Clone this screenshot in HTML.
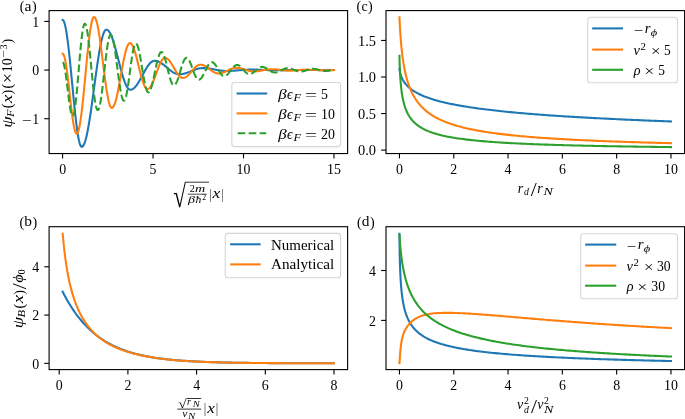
<!DOCTYPE html>
<html><head><meta charset="utf-8"><title>figure</title>
<style>html,body{margin:0;padding:0;background:#fff}svg{display:block}</style></head>
<body>
<svg width="685" height="419" viewBox="0 0 685 419" font-family="'Liberation Serif', serif" fill="#000">
<rect width="685" height="419" fill="#fff"/>
<defs>
<clipPath id="clip_a"><rect x="49.10" y="10.60" width="298.50" height="142.95"/></clipPath>
<clipPath id="clip_b"><rect x="49.10" y="226.70" width="298.50" height="142.90"/></clipPath>
<clipPath id="clip_c"><rect x="386.00" y="10.60" width="298.60" height="142.95"/></clipPath>
<clipPath id="clip_d"><rect x="386.00" y="226.70" width="298.60" height="142.90"/></clipPath>
</defs>
<path d="M62.60,19.94 L63.05,20.12 L63.51,20.64 L63.96,21.52 L64.41,22.74 L64.87,24.29 L65.32,26.17 L65.77,28.37 L66.22,30.88 L66.68,33.67 L67.13,36.75 L67.58,40.08 L68.04,43.65 L68.49,47.44 L68.94,51.43 L69.40,55.60 L69.85,59.92 L70.30,64.37 L70.75,68.93 L71.21,73.57 L71.66,78.26 L72.11,82.98 L72.57,87.70 L73.02,92.40 L73.47,97.05 L73.93,101.62 L74.38,106.09 L74.83,110.44 L75.28,114.64 L75.74,118.66 L76.19,122.48 L76.64,126.09 L77.10,129.47 L77.55,132.58 L78.00,135.43 L78.46,137.98 L78.91,140.24 L79.36,142.17 L79.81,143.78 L80.27,145.06 L80.72,145.99 L81.17,146.58 L81.63,146.81 L82.08,146.75 L82.53,146.49 L82.99,146.04 L83.44,145.40 L83.89,144.56 L84.34,143.54 L84.80,142.33 L85.25,140.95 L85.70,139.39 L86.16,137.65 L86.61,135.76 L87.06,133.70 L87.52,131.50 L87.97,129.15 L88.42,126.67 L88.87,124.05 L89.33,121.32 L89.78,118.48 L90.23,115.54 L90.69,112.51 L91.14,109.39 L91.59,106.21 L92.05,102.96 L92.50,99.67 L92.95,96.34 L93.40,92.98 L93.86,89.61 L94.31,86.23 L94.76,82.86 L95.22,79.51 L95.67,76.18 L96.12,72.90 L96.58,69.67 L97.03,66.50 L97.48,63.40 L97.93,60.38 L98.39,57.46 L98.84,54.64 L99.29,51.93 L99.75,49.34 L100.20,46.88 L100.65,44.56 L101.11,42.38 L101.56,40.36 L102.01,38.49 L102.46,36.79 L102.92,35.26 L103.37,33.91 L103.82,32.74 L104.28,31.75 L104.73,30.96 L105.18,30.35 L105.64,29.93 L106.09,29.71 L106.54,29.68 L106.99,29.77 L107.45,29.97 L107.90,30.27 L108.35,30.67 L108.81,31.18 L109.26,31.79 L109.71,32.49 L110.17,33.29 L110.62,34.19 L111.07,35.17 L111.52,36.24 L111.98,37.40 L112.43,38.63 L112.88,39.94 L113.34,41.31 L113.79,42.75 L114.24,44.26 L114.70,45.81 L115.15,47.41 L115.60,49.06 L116.05,50.75 L116.51,52.46 L116.96,54.20 L117.41,55.96 L117.87,57.74 L118.32,59.52 L118.77,61.30 L119.23,63.08 L119.68,64.84 L120.13,66.59 L120.58,68.31 L121.04,70.00 L121.49,71.65 L121.94,73.27 L122.40,74.83 L122.85,76.34 L123.30,77.79 L123.76,79.18 L124.21,80.50 L124.66,81.75 L125.11,82.92 L125.57,84.01 L126.02,85.01 L126.47,85.92 L126.93,86.74 L127.38,87.46 L127.83,88.09 L128.29,88.62 L128.74,89.04 L129.19,89.36 L129.64,89.58 L130.10,89.69 L130.55,89.70 L131.00,89.65 L131.46,89.56 L131.91,89.41 L132.36,89.21 L132.82,88.97 L133.27,88.68 L133.72,88.34 L134.17,87.96 L134.63,87.54 L135.08,87.07 L135.53,86.56 L135.99,86.01 L136.44,85.43 L136.89,84.81 L137.35,84.16 L137.80,83.47 L138.25,82.76 L138.70,82.03 L139.16,81.26 L139.61,80.48 L140.06,79.68 L140.52,78.87 L140.97,78.04 L141.42,77.21 L141.88,76.36 L142.33,75.51 L142.78,74.67 L143.23,73.82 L143.69,72.98 L144.14,72.15 L144.59,71.32 L145.05,70.51 L145.50,69.72 L145.95,68.95 L146.41,68.20 L146.86,67.47 L147.31,66.77 L147.76,66.10 L148.22,65.46 L148.67,64.85 L149.12,64.28 L149.58,63.75 L150.03,63.25 L150.48,62.80 L150.94,62.39 L151.39,62.03 L151.84,61.71 L152.29,61.44 L152.75,61.22 L153.20,61.04 L153.65,60.91 L154.11,60.83 L154.56,60.81 L155.01,60.82 L155.47,60.85 L155.92,60.90 L156.37,60.98 L156.83,61.08 L157.28,61.20 L157.73,61.34 L158.18,61.50 L158.64,61.68 L159.09,61.88 L159.54,62.10 L160.00,62.34 L160.45,62.59 L160.90,62.87 L161.36,63.15 L161.81,63.46 L162.26,63.77 L162.71,64.10 L163.17,64.44 L163.62,64.79 L164.07,65.15 L164.53,65.51 L164.98,65.89 L165.43,66.26 L165.89,66.65 L166.34,67.03 L166.79,67.42 L167.24,67.81 L167.70,68.20 L168.15,68.58 L168.60,68.96 L169.06,69.34 L169.51,69.71 L169.96,70.08 L170.42,70.43 L170.87,70.78 L171.32,71.11 L171.77,71.44 L172.23,71.75 L172.68,72.04 L173.13,72.32 L173.59,72.59 L174.04,72.84 L174.49,73.07 L174.95,73.28 L175.40,73.48 L175.85,73.65 L176.30,73.81 L176.76,73.94 L177.21,74.05 L177.66,74.14 L178.12,74.21 L178.57,74.25 L179.02,74.28 L179.48,74.28 L179.93,74.27 L180.38,74.25 L180.83,74.22 L181.29,74.17 L181.74,74.12 L182.19,74.05 L182.65,73.98 L183.10,73.89 L183.55,73.79 L184.01,73.69 L184.46,73.57 L184.91,73.45 L185.36,73.32 L185.82,73.18 L186.27,73.03 L186.72,72.88 L187.18,72.72 L187.63,72.55 L188.08,72.38 L188.54,72.21 L188.99,72.03 L189.44,71.85 L189.89,71.66 L190.35,71.48 L190.80,71.29 L191.25,71.10 L191.71,70.92 L192.16,70.73 L192.61,70.55 L193.07,70.37 L193.52,70.19 L193.97,70.01 L194.42,69.84 L194.88,69.68 L195.33,69.52 L195.78,69.36 L196.24,69.22 L196.69,69.08 L197.14,68.94 L197.60,68.82 L198.05,68.71 L198.50,68.60 L198.95,68.50 L199.41,68.42 L199.86,68.34 L200.31,68.27 L200.77,68.22 L201.22,68.17 L201.67,68.14 L202.13,68.12 L202.58,68.11 L203.03,68.10 L203.48,68.11 L203.94,68.12 L204.39,68.14 L204.84,68.16 L205.30,68.18 L205.75,68.21 L206.20,68.25 L206.66,68.28 L207.11,68.33 L207.56,68.38 L208.01,68.43 L208.47,68.49 L208.92,68.55 L209.37,68.61 L209.83,68.68 L210.28,68.74 L210.73,68.82 L211.19,68.89 L211.64,68.97 L212.09,69.05 L212.54,69.13 L213.00,69.21 L213.45,69.30 L213.90,69.38 L214.36,69.47 L214.81,69.55 L215.26,69.64 L215.72,69.72 L216.17,69.81 L216.62,69.89 L217.07,69.97 L217.53,70.05 L217.98,70.13 L218.43,70.21 L218.89,70.28 L219.34,70.36 L219.79,70.42 L220.25,70.49 L220.70,70.55 L221.15,70.61 L221.60,70.67 L222.06,70.72 L222.51,70.76 L222.96,70.81 L223.42,70.84 L223.87,70.88 L224.32,70.91 L224.78,70.93 L225.23,70.95 L225.68,70.96 L226.13,70.97 L226.59,70.97 L227.04,70.97 L227.49,70.97 L227.95,70.96 L228.40,70.96 L228.85,70.95 L229.31,70.93 L229.76,70.92 L230.21,70.90 L230.66,70.88 L231.12,70.86 L231.57,70.84 L232.02,70.81 L232.48,70.79 L232.93,70.76 L233.38,70.73 L233.84,70.70 L234.29,70.66 L234.74,70.63 L235.19,70.59 L235.65,70.56 L236.10,70.52 L236.55,70.48 L237.01,70.44 L237.46,70.40 L237.91,70.36 L238.37,70.32 L238.82,70.28 L239.27,70.24 L239.72,70.20 L240.18,70.16 L240.63,70.12 L241.08,70.09 L241.54,70.05 L241.99,70.01 L242.44,69.97 L242.90,69.94 L243.35,69.91 L243.80,69.87 L244.26,69.84 L244.71,69.81 L245.16,69.78 L245.61,69.76 L246.07,69.73 L246.52,69.71 L246.97,69.69 L247.43,69.67 L247.88,69.66 L248.33,69.65 L248.79,69.63 L249.24,69.63 L249.69,69.62 L250.14,69.61 L250.60,69.61 L251.05,69.61 L251.50,69.61 L251.96,69.62 L252.41,69.62 L252.86,69.62 L253.32,69.63 L253.77,69.64 L254.22,69.64 L254.67,69.65 L255.13,69.66 L255.58,69.67 L256.03,69.68 L256.49,69.69 L256.94,69.71 L257.39,69.72 L257.85,69.74 L258.30,69.75 L258.75,69.77 L259.20,69.78 L259.66,69.80 L260.11,69.82 L260.56,69.83 L261.02,69.85 L261.47,69.87 L261.92,69.89 L262.38,69.91 L262.83,69.92 L263.28,69.94 L263.73,69.96 L264.19,69.98 L264.64,70.00 L265.09,70.01 L265.55,70.03 L266.00,70.05 L266.45,70.07 L266.91,70.08 L267.36,70.10 L267.81,70.11 L268.26,70.13 L268.72,70.14 L269.17,70.16 L269.62,70.17 L270.08,70.18 L270.53,70.19 L270.98,70.20 L271.44,70.21 L271.89,70.22 L272.34,70.22 L272.79,70.23 L273.25,70.24 L273.70,70.24 L274.15,70.24 L274.61,70.24 L275.06,70.24 L275.51,70.24 L275.97,70.24 L276.42,70.24 L276.87,70.24 L277.32,70.24 L277.78,70.24 L278.23,70.23 L278.68,70.23 L279.14,70.23 L279.59,70.22 L280.04,70.22 L280.50,70.21 L280.95,70.21 L281.40,70.20 L281.85,70.19 L282.31,70.19 L282.76,70.18 L283.21,70.17 L283.67,70.17 L284.12,70.16 L284.57,70.15 L285.03,70.14 L285.48,70.13 L285.93,70.13 L286.38,70.12 L286.84,70.11 L287.29,70.10 L287.74,70.09 L288.20,70.08 L288.65,70.07 L289.10,70.07 L289.56,70.06 L290.01,70.05 L290.46,70.04 L290.91,70.03 L291.37,70.03 L291.82,70.02 L292.27,70.01 L292.73,70.01 L293.18,70.00 L293.63,69.99 L294.09,69.99 L294.54,69.98 L294.99,69.98 L295.44,69.97 L295.90,69.97 L296.35,69.97 L296.80,69.96 L297.26,69.96 L297.71,69.96 L298.16,69.96 L298.62,69.95 L299.07,69.95 L299.52,69.95 L299.97,69.95 L300.43,69.95 L300.88,69.95 L301.33,69.95 L301.79,69.96 L302.24,69.96 L302.69,69.96 L303.15,69.96 L303.60,69.96 L304.05,69.97 L304.50,69.97 L304.96,69.97 L305.41,69.97 L305.86,69.98 L306.32,69.98 L306.77,69.98 L307.22,69.99 L307.68,69.99 L308.13,70.00 L308.58,70.00 L309.03,70.00 L309.49,70.01 L309.94,70.01 L310.39,70.02 L310.85,70.02 L311.30,70.03 L311.75,70.03 L312.21,70.03 L312.66,70.04 L313.11,70.04 L313.56,70.05 L314.02,70.05 L314.47,70.06 L314.92,70.06 L315.38,70.06 L315.83,70.07 L316.28,70.07 L316.74,70.07 L317.19,70.08 L317.64,70.08 L318.09,70.08 L318.55,70.09 L319.00,70.09 L319.45,70.09 L319.91,70.09 L320.36,70.09 L320.81,70.10 L321.27,70.10 L321.72,70.10 L322.17,70.10 L322.62,70.10 L323.08,70.10 L323.53,70.10 L323.98,70.10 L324.44,70.10 L324.89,70.10 L325.34,70.10 L325.80,70.10 L326.25,70.10 L326.70,70.09 L327.15,70.09 L327.61,70.09 L328.06,70.09 L328.51,70.09 L328.97,70.09 L329.42,70.09 L329.87,70.08 L330.33,70.08 L330.78,70.08 L331.23,70.08 L331.68,70.08 L332.14,70.08 L332.59,70.07 L333.04,70.07 L333.50,70.07 L333.95,70.07" fill="none" stroke="#1f77b4" stroke-width="2.08" stroke-linecap="square" stroke-linejoin="round" clip-path="url(#clip_a)"/>
<path d="M62.60,53.70 L63.05,53.91 L63.51,54.52 L63.96,55.53 L64.41,56.93 L64.87,58.70 L65.32,60.83 L65.77,63.30 L66.22,66.08 L66.68,69.13 L67.13,72.44 L67.58,75.97 L68.04,79.68 L68.49,83.53 L68.94,87.48 L69.40,91.50 L69.85,95.55 L70.30,99.57 L70.75,103.53 L71.21,107.40 L71.66,111.12 L72.11,114.67 L72.57,118.00 L73.02,121.09 L73.47,123.90 L73.93,126.40 L74.38,128.57 L74.83,130.38 L75.28,131.83 L75.74,132.88 L76.19,133.53 L76.64,133.78 L77.10,133.63 L77.55,133.08 L78.00,132.15 L78.46,130.84 L78.91,129.15 L79.36,127.11 L79.81,124.72 L80.27,121.99 L80.72,118.96 L81.17,115.63 L81.63,112.03 L82.08,108.19 L82.53,104.12 L82.99,99.86 L83.44,95.44 L83.89,90.89 L84.34,86.23 L84.80,81.50 L85.25,76.72 L85.70,71.94 L86.16,67.18 L86.61,62.48 L87.06,57.86 L87.52,53.36 L87.97,49.01 L88.42,44.84 L88.87,40.87 L89.33,37.13 L89.78,33.65 L90.23,30.45 L90.69,27.55 L91.14,24.97 L91.59,22.74 L92.05,20.85 L92.50,19.33 L92.95,18.19 L93.40,17.43 L93.86,17.06 L94.31,17.07 L94.76,17.37 L95.22,17.97 L95.67,18.86 L96.12,20.02 L96.58,21.46 L97.03,23.16 L97.48,25.11 L97.93,27.30 L98.39,29.72 L98.84,32.35 L99.29,35.18 L99.75,38.17 L100.20,41.33 L100.65,44.62 L101.11,48.02 L101.56,51.52 L102.01,55.09 L102.46,58.71 L102.92,62.35 L103.37,65.99 L103.82,69.60 L104.28,73.18 L104.73,76.68 L105.18,80.09 L105.64,83.39 L106.09,86.55 L106.54,89.56 L106.99,92.40 L107.45,95.04 L107.90,97.47 L108.35,99.68 L108.81,101.65 L109.26,103.36 L109.71,104.82 L110.17,106.00 L110.62,106.90 L111.07,107.52 L111.52,107.84 L111.98,107.89 L112.43,107.71 L112.88,107.33 L113.34,106.76 L113.79,105.99 L114.24,105.04 L114.70,103.90 L115.15,102.59 L115.60,101.11 L116.05,99.47 L116.51,97.68 L116.96,95.76 L117.41,93.71 L117.87,91.54 L118.32,89.28 L118.77,86.94 L119.23,84.52 L119.68,82.04 L120.13,79.53 L120.58,76.99 L121.04,74.44 L121.49,71.90 L121.94,69.38 L122.40,66.90 L122.85,64.47 L123.30,62.11 L123.76,59.83 L124.21,57.65 L124.66,55.58 L125.11,53.64 L125.57,51.82 L126.02,50.16 L126.47,48.65 L126.93,47.31 L127.38,46.14 L127.83,45.15 L128.29,44.35 L128.74,43.75 L129.19,43.34 L129.64,43.13 L130.10,43.11 L130.55,43.26 L131.00,43.55 L131.46,43.99 L131.91,44.58 L132.36,45.30 L132.82,46.17 L133.27,47.16 L133.72,48.28 L134.17,49.52 L134.63,50.86 L135.08,52.30 L135.53,53.84 L135.99,55.45 L136.44,57.14 L136.89,58.88 L137.35,60.67 L137.80,62.50 L138.25,64.35 L138.70,66.21 L139.16,68.07 L139.61,69.92 L140.06,71.74 L140.52,73.52 L140.97,75.26 L141.42,76.93 L141.88,78.53 L142.33,80.06 L142.78,81.48 L143.23,82.81 L143.69,84.03 L144.14,85.13 L144.59,86.10 L145.05,86.94 L145.50,87.65 L145.95,88.21 L146.41,88.63 L146.86,88.90 L147.31,89.02 L147.76,89.00 L148.22,88.87 L148.67,88.65 L149.12,88.32 L149.58,87.90 L150.03,87.38 L150.48,86.77 L150.94,86.08 L151.39,85.30 L151.84,84.44 L152.29,83.51 L152.75,82.51 L153.20,81.46 L153.65,80.35 L154.11,79.19 L154.56,78.00 L155.01,76.78 L155.47,75.54 L155.92,74.28 L156.37,73.02 L156.83,71.76 L157.28,70.51 L157.73,69.28 L158.18,68.08 L158.64,66.92 L159.09,65.79 L159.54,64.72 L160.00,63.71 L160.45,62.75 L160.90,61.87 L161.36,61.07 L161.81,60.35 L162.26,59.71 L162.71,59.16 L163.17,58.71 L163.62,58.35 L164.07,58.10 L164.53,57.94 L164.98,57.89 L165.43,57.92 L165.89,58.01 L166.34,58.17 L166.79,58.38 L167.24,58.66 L167.70,59.00 L168.15,59.39 L168.60,59.83 L169.06,60.33 L169.51,60.88 L169.96,61.46 L170.42,62.09 L170.87,62.76 L171.32,63.46 L171.77,64.19 L172.23,64.94 L172.68,65.71 L173.13,66.49 L173.59,67.28 L174.04,68.08 L174.49,68.87 L174.95,69.66 L175.40,70.44 L175.85,71.20 L176.30,71.94 L176.76,72.66 L177.21,73.34 L177.66,73.99 L178.12,74.61 L178.57,75.18 L179.02,75.70 L179.48,76.18 L179.93,76.60 L180.38,76.97 L180.83,77.28 L181.29,77.53 L181.74,77.73 L182.19,77.85 L182.65,77.92 L183.10,77.93 L183.55,77.89 L184.01,77.80 L184.46,77.67 L184.91,77.51 L185.36,77.30 L185.82,77.05 L186.27,76.76 L186.72,76.44 L187.18,76.08 L187.63,75.70 L188.08,75.28 L188.54,74.84 L188.99,74.37 L189.44,73.89 L189.89,73.39 L190.35,72.87 L190.80,72.34 L191.25,71.81 L191.71,71.27 L192.16,70.74 L192.61,70.21 L193.07,69.68 L193.52,69.17 L193.97,68.67 L194.42,68.18 L194.88,67.72 L195.33,67.28 L195.78,66.87 L196.24,66.49 L196.69,66.14 L197.14,65.82 L197.60,65.54 L198.05,65.30 L198.50,65.10 L198.95,64.93 L199.41,64.81 L199.86,64.73 L200.31,64.70 L200.77,64.71 L201.22,64.74 L201.67,64.80 L202.13,64.88 L202.58,65.00 L203.03,65.13 L203.48,65.29 L203.94,65.48 L204.39,65.69 L204.84,65.91 L205.30,66.16 L205.75,66.43 L206.20,66.71 L206.66,67.01 L207.11,67.32 L207.56,67.64 L208.01,67.97 L208.47,68.30 L208.92,68.64 L209.37,68.99 L209.83,69.33 L210.28,69.67 L210.73,70.01 L211.19,70.35 L211.64,70.67 L212.09,70.99 L212.54,71.29 L213.00,71.58 L213.45,71.86 L213.90,72.11 L214.36,72.35 L214.81,72.57 L215.26,72.77 L215.72,72.94 L216.17,73.09 L216.62,73.22 L217.07,73.32 L217.53,73.39 L217.98,73.44 L218.43,73.45 L218.89,73.45 L219.34,73.43 L219.79,73.39 L220.25,73.33 L220.70,73.25 L221.15,73.16 L221.60,73.05 L222.06,72.93 L222.51,72.79 L222.96,72.64 L223.42,72.47 L223.87,72.30 L224.32,72.11 L224.78,71.91 L225.23,71.71 L225.68,71.50 L226.13,71.28 L226.59,71.06 L227.04,70.84 L227.49,70.61 L227.95,70.39 L228.40,70.17 L228.85,69.95 L229.31,69.73 L229.76,69.52 L230.21,69.32 L230.66,69.13 L231.12,68.95 L231.57,68.77 L232.02,68.61 L232.48,68.47 L232.93,68.33 L233.38,68.22 L233.84,68.12 L234.29,68.03 L234.74,67.96 L235.19,67.91 L235.65,67.88 L236.10,67.86 L236.55,67.86 L237.01,67.88 L237.46,67.90 L237.91,67.94 L238.37,67.99 L238.82,68.05 L239.27,68.12 L239.72,68.20 L240.18,68.28 L240.63,68.38 L241.08,68.49 L241.54,68.61 L241.99,68.73 L242.44,68.85 L242.90,68.99 L243.35,69.12 L243.80,69.27 L244.26,69.41 L244.71,69.55 L245.16,69.70 L245.61,69.85 L246.07,69.99 L246.52,70.13 L246.97,70.27 L247.43,70.41 L247.88,70.54 L248.33,70.66 L248.79,70.78 L249.24,70.89 L249.69,70.99 L250.14,71.09 L250.60,71.17 L251.05,71.25 L251.50,71.31 L251.96,71.36 L252.41,71.40 L252.86,71.43 L253.32,71.45 L253.77,71.46 L254.22,71.46 L254.67,71.45 L255.13,71.43 L255.58,71.41 L256.03,71.37 L256.49,71.33 L256.94,71.29 L257.39,71.24 L257.85,71.18 L258.30,71.12 L258.75,71.05 L259.20,70.98 L259.66,70.90 L260.11,70.82 L260.56,70.74 L261.02,70.65 L261.47,70.56 L261.92,70.47 L262.38,70.38 L262.83,70.29 L263.28,70.20 L263.73,70.10 L264.19,70.01 L264.64,69.93 L265.09,69.84 L265.55,69.76 L266.00,69.68 L266.45,69.61 L266.91,69.54 L267.36,69.47 L267.81,69.41 L268.26,69.36 L268.72,69.31 L269.17,69.27 L269.62,69.24 L270.08,69.21 L270.53,69.19 L270.98,69.18 L271.44,69.17 L271.89,69.18 L272.34,69.18 L272.79,69.19 L273.25,69.21 L273.70,69.23 L274.15,69.25 L274.61,69.28 L275.06,69.31 L275.51,69.35 L275.97,69.39 L276.42,69.43 L276.87,69.48 L277.32,69.53 L277.78,69.58 L278.23,69.63 L278.68,69.69 L279.14,69.74 L279.59,69.80 L280.04,69.86 L280.50,69.92 L280.95,69.97 L281.40,70.03 L281.85,70.09 L282.31,70.15 L282.76,70.20 L283.21,70.25 L283.67,70.30 L284.12,70.35 L284.57,70.40 L285.03,70.44 L285.48,70.48 L285.93,70.51 L286.38,70.54 L286.84,70.57 L287.29,70.59 L287.74,70.61 L288.20,70.62 L288.65,70.63 L289.10,70.63 L289.56,70.63 L290.01,70.63 L290.46,70.62 L290.91,70.61 L291.37,70.60 L291.82,70.58 L292.27,70.57 L292.73,70.54 L293.18,70.52 L293.63,70.49 L294.09,70.46 L294.54,70.43 L294.99,70.40 L295.44,70.37 L295.90,70.33 L296.35,70.29 L296.80,70.25 L297.26,70.22 L297.71,70.18 L298.16,70.14 L298.62,70.10 L299.07,70.06 L299.52,70.02 L299.97,69.98 L300.43,69.95 L300.88,69.91 L301.33,69.88 L301.79,69.84 L302.24,69.82 L302.69,69.79 L303.15,69.76 L303.60,69.74 L304.05,69.72 L304.50,69.70 L304.96,69.69 L305.41,69.68 L305.86,69.67 L306.32,69.66 L306.77,69.66 L307.22,69.66 L307.68,69.66 L308.13,69.67 L308.58,69.68 L309.03,69.68 L309.49,69.70 L309.94,69.71 L310.39,69.72 L310.85,69.74 L311.30,69.76 L311.75,69.77 L312.21,69.79 L312.66,69.82 L313.11,69.84 L313.56,69.86 L314.02,69.89 L314.47,69.91 L314.92,69.93 L315.38,69.96 L315.83,69.99 L316.28,70.01 L316.74,70.04 L317.19,70.06 L317.64,70.08 L318.09,70.11 L318.55,70.13 L319.00,70.15 L319.45,70.17 L319.91,70.19 L320.36,70.21 L320.81,70.23 L321.27,70.24 L321.72,70.25 L322.17,70.27 L322.62,70.28 L323.08,70.28 L323.53,70.29 L323.98,70.29 L324.44,70.29 L324.89,70.29 L325.34,70.29 L325.80,70.29 L326.25,70.28 L326.70,70.28 L327.15,70.27 L327.61,70.27 L328.06,70.26 L328.51,70.25 L328.97,70.24 L329.42,70.22 L329.87,70.21 L330.33,70.20 L330.78,70.19 L331.23,70.17 L331.68,70.16 L332.14,70.14 L332.59,70.13 L333.04,70.11 L333.50,70.10 L333.95,70.08" fill="none" stroke="#ff7f0e" stroke-width="2.08" stroke-linecap="square" stroke-linejoin="round" clip-path="url(#clip_a)"/>
<path d="M62.60,62.27 L63.05,62.53 L63.51,63.33 L63.96,64.64 L64.41,66.44 L64.87,68.69 L65.32,71.34 L65.77,74.35 L66.22,77.65 L66.68,81.18 L67.13,84.87 L67.58,88.64 L68.04,92.42 L68.49,96.13 L68.94,99.69 L69.40,103.05 L69.85,106.12 L70.30,108.85 L70.75,111.19 L71.21,113.08 L71.66,114.49 L72.11,115.39 L72.57,115.77 L73.02,115.58 L73.47,114.76 L73.93,113.33 L74.38,111.29 L74.83,108.69 L75.28,105.55 L75.74,101.92 L76.19,97.84 L76.64,93.38 L77.10,88.60 L77.55,83.56 L78.00,78.32 L78.46,72.97 L78.91,67.58 L79.36,62.21 L79.81,56.95 L80.27,51.86 L80.72,47.02 L81.17,42.49 L81.63,38.34 L82.08,34.61 L82.53,31.37 L82.99,28.65 L83.44,26.50 L83.89,24.94 L84.34,24.00 L84.80,23.69 L85.25,23.95 L85.70,24.74 L86.16,26.03 L86.61,27.83 L87.06,30.10 L87.52,32.82 L87.97,35.95 L88.42,39.46 L88.87,43.30 L89.33,47.43 L89.78,51.80 L90.23,56.34 L90.69,61.02 L91.14,65.77 L91.59,70.53 L92.05,75.25 L92.50,79.87 L92.95,84.33 L93.40,88.57 L93.86,92.55 L94.31,96.22 L94.76,99.54 L95.22,102.45 L95.67,104.94 L96.12,106.96 L96.58,108.49 L97.03,109.52 L97.48,110.03 L97.93,110.03 L98.39,109.56 L98.84,108.66 L99.29,107.32 L99.75,105.57 L100.20,103.42 L100.65,100.91 L101.11,98.05 L101.56,94.89 L102.01,91.46 L102.46,87.80 L102.92,83.96 L103.37,79.98 L103.82,75.91 L104.28,71.80 L104.73,67.70 L105.18,63.66 L105.64,59.71 L106.09,55.93 L106.54,52.33 L106.99,48.98 L107.45,45.91 L107.90,43.15 L108.35,40.75 L108.81,38.72 L109.26,37.09 L109.71,35.88 L110.17,35.11 L110.62,34.79 L111.07,34.89 L111.52,35.38 L111.98,36.24 L112.43,37.47 L112.88,39.05 L113.34,40.96 L113.79,43.19 L114.24,45.69 L114.70,48.46 L115.15,51.44 L115.60,54.62 L116.05,57.95 L116.51,61.39 L116.96,64.91 L117.41,68.46 L117.87,72.00 L118.32,75.49 L118.77,78.89 L119.23,82.16 L119.68,85.26 L120.13,88.16 L120.58,90.83 L121.04,93.22 L121.49,95.32 L121.94,97.10 L122.40,98.54 L122.85,99.63 L123.30,100.34 L123.76,100.67 L124.21,100.62 L124.66,100.16 L125.11,99.31 L125.57,98.07 L126.02,96.46 L126.47,94.51 L126.93,92.24 L127.38,89.68 L127.83,86.88 L128.29,83.86 L128.74,80.68 L129.19,77.38 L129.64,74.00 L130.10,70.59 L130.55,67.21 L131.00,63.90 L131.46,60.70 L131.91,57.66 L132.36,54.83 L132.82,52.25 L133.27,49.95 L133.72,47.96 L134.17,46.31 L134.63,45.04 L135.08,44.14 L135.53,43.64 L135.99,43.55 L136.44,43.79 L136.89,44.35 L137.35,45.22 L137.80,46.38 L138.25,47.82 L138.70,49.52 L139.16,51.46 L139.61,53.62 L140.06,55.97 L140.52,58.47 L140.97,61.09 L141.42,63.80 L141.88,66.57 L142.33,69.36 L142.78,72.12 L143.23,74.84 L143.69,77.46 L144.14,79.97 L144.59,82.31 L145.05,84.47 L145.50,86.42 L145.95,88.13 L146.41,89.57 L146.86,90.74 L147.31,91.60 L147.76,92.17 L148.22,92.42 L148.67,92.37 L149.12,92.08 L149.58,91.55 L150.03,90.79 L150.48,89.81 L150.94,88.62 L151.39,87.23 L151.84,85.67 L152.29,83.94 L152.75,82.08 L153.20,80.10 L153.65,78.03 L154.11,75.88 L154.56,73.69 L155.01,71.49 L155.47,69.29 L155.92,67.13 L156.37,65.03 L156.83,63.02 L157.28,61.12 L157.73,59.35 L158.18,57.73 L158.64,56.28 L159.09,55.03 L159.54,53.98 L160.00,53.15 L160.45,52.55 L160.90,52.18 L161.36,52.05 L161.81,52.15 L162.26,52.46 L162.71,52.99 L163.17,53.72 L163.62,54.64 L164.07,55.74 L164.53,57.02 L164.98,58.44 L165.43,60.00 L165.89,61.67 L166.34,63.43 L166.79,65.25 L167.24,67.13 L167.70,69.02 L168.15,70.91 L168.60,72.76 L169.06,74.57 L169.51,76.30 L169.96,77.93 L170.42,79.44 L170.87,80.80 L171.32,82.02 L171.77,83.05 L172.23,83.91 L172.68,84.56 L173.13,85.01 L173.59,85.24 L174.04,85.26 L174.49,85.11 L174.95,84.78 L175.40,84.28 L175.85,83.63 L176.30,82.82 L176.76,81.87 L177.21,80.79 L177.66,79.59 L178.12,78.29 L178.57,76.91 L179.02,75.46 L179.48,73.96 L179.93,72.43 L180.38,70.89 L180.83,69.36 L181.29,67.85 L181.74,66.39 L182.19,65.00 L182.65,63.69 L183.10,62.48 L183.55,61.38 L184.01,60.42 L184.46,59.59 L184.91,58.91 L185.36,58.40 L185.82,58.04 L186.27,57.86 L186.72,57.85 L187.18,58.00 L187.63,58.29 L188.08,58.73 L188.54,59.30 L188.99,60.01 L189.44,60.84 L189.89,61.77 L190.35,62.81 L190.80,63.92 L191.25,65.10 L191.71,66.34 L192.16,67.60 L192.61,68.89 L193.07,70.17 L193.52,71.43 L193.97,72.66 L194.42,73.83 L194.88,74.93 L195.33,75.95 L195.78,76.87 L196.24,77.68 L196.69,78.37 L197.14,78.92 L197.60,79.34 L198.05,79.60 L198.50,79.72 L198.95,79.71 L199.41,79.58 L199.86,79.36 L200.31,79.04 L200.77,78.63 L201.22,78.13 L201.67,77.55 L202.13,76.88 L202.58,76.16 L203.03,75.37 L203.48,74.53 L203.94,73.64 L204.39,72.73 L204.84,71.80 L205.30,70.86 L205.75,69.91 L206.20,68.99 L206.66,68.08 L207.11,67.21 L207.56,66.38 L208.01,65.60 L208.47,64.89 L208.92,64.25 L209.37,63.68 L209.83,63.21 L210.28,62.82 L210.73,62.52 L211.19,62.32 L211.64,62.23 L212.09,62.23 L212.54,62.33 L213.00,62.52 L213.45,62.80 L213.90,63.16 L214.36,63.60 L214.81,64.12 L215.26,64.71 L215.72,65.35 L216.17,66.05 L216.62,66.79 L217.07,67.56 L217.53,68.35 L217.98,69.15 L218.43,69.96 L218.89,70.75 L219.34,71.52 L219.79,72.26 L220.25,72.96 L220.70,73.61 L221.15,74.20 L221.60,74.72 L222.06,75.17 L222.51,75.54 L222.96,75.82 L223.42,76.01 L223.87,76.11 L224.32,76.13 L224.78,76.07 L225.23,75.94 L225.68,75.75 L226.13,75.50 L226.59,75.19 L227.04,74.82 L227.49,74.40 L227.95,73.94 L228.40,73.43 L228.85,72.89 L229.31,72.33 L229.76,71.74 L230.21,71.13 L230.66,70.52 L231.12,69.91 L231.57,69.31 L232.02,68.72 L232.48,68.16 L232.93,67.62 L233.38,67.12 L233.84,66.65 L234.29,66.24 L234.74,65.87 L235.19,65.56 L235.65,65.31 L236.10,65.13 L236.55,65.00 L237.01,64.95 L237.46,64.95 L237.91,65.03 L238.37,65.16 L238.82,65.35 L239.27,65.60 L239.72,65.91 L240.18,66.26 L240.63,66.66 L241.08,67.10 L241.54,67.57 L241.99,68.07 L242.44,68.59 L242.90,69.12 L243.35,69.66 L243.80,70.19 L244.26,70.72 L244.71,71.23 L245.16,71.71 L245.61,72.17 L246.07,72.58 L246.52,72.96 L246.97,73.29 L247.43,73.57 L247.88,73.79 L248.33,73.95 L248.79,74.05 L249.24,74.09 L249.69,74.07 L250.14,74.01 L250.60,73.90 L251.05,73.75 L251.50,73.56 L251.96,73.33 L252.41,73.06 L252.86,72.76 L253.32,72.44 L253.77,72.08 L254.22,71.71 L254.67,71.33 L255.13,70.93 L255.58,70.52 L256.03,70.12 L256.49,69.72 L256.94,69.33 L257.39,68.96 L257.85,68.60 L258.30,68.27 L258.75,67.96 L259.20,67.69 L259.66,67.46 L260.11,67.26 L260.56,67.10 L261.02,66.98 L261.47,66.91 L261.92,66.89 L262.38,66.90 L262.83,66.95 L263.28,67.03 L263.73,67.14 L264.19,67.28 L264.64,67.46 L265.09,67.65 L265.55,67.87 L266.00,68.12 L266.45,68.38 L266.91,68.66 L267.36,68.95 L267.81,69.25 L268.26,69.55 L268.72,69.86 L269.17,70.16 L269.62,70.46 L270.08,70.75 L270.53,71.02 L270.98,71.28 L271.44,71.52 L271.89,71.74 L272.34,71.94 L272.79,72.10 L273.25,72.24 L273.70,72.35 L274.15,72.43 L274.61,72.47 L275.06,72.48 L275.51,72.46 L275.97,72.42 L276.42,72.35 L276.87,72.25 L277.32,72.13 L277.78,71.98 L278.23,71.81 L278.68,71.63 L279.14,71.43 L279.59,71.21 L280.04,70.99 L280.50,70.75 L280.95,70.51 L281.40,70.27 L281.85,70.03 L282.31,69.79 L282.76,69.55 L283.21,69.33 L283.67,69.12 L284.12,68.93 L284.57,68.75 L285.03,68.59 L285.48,68.46 L285.93,68.34 L286.38,68.26 L286.84,68.20 L287.29,68.16 L287.74,68.15 L288.20,68.17 L288.65,68.21 L289.10,68.26 L289.56,68.34 L290.01,68.44 L290.46,68.55 L290.91,68.68 L291.37,68.83 L291.82,68.99 L292.27,69.16 L292.73,69.34 L293.18,69.52 L293.63,69.71 L294.09,69.90 L294.54,70.09 L294.99,70.28 L295.44,70.46 L295.90,70.64 L296.35,70.80 L296.80,70.96 L297.26,71.09 L297.71,71.22 L298.16,71.32 L298.62,71.41 L299.07,71.48 L299.52,71.53 L299.97,71.55 L300.43,71.56 L300.88,71.54 L301.33,71.51 L301.79,71.47 L302.24,71.41 L302.69,71.33 L303.15,71.24 L303.60,71.14 L304.05,71.02 L304.50,70.89 L304.96,70.76 L305.41,70.62 L305.86,70.47 L306.32,70.33 L306.77,70.18 L307.22,70.03 L307.68,69.88 L308.13,69.74 L308.58,69.60 L309.03,69.47 L309.49,69.35 L309.94,69.24 L310.39,69.15 L310.85,69.06 L311.30,69.00 L311.75,68.94 L312.21,68.91 L312.66,68.89 L313.11,68.88 L313.56,68.89 L314.02,68.92 L314.47,68.95 L314.92,69.00 L315.38,69.06 L315.83,69.14 L316.28,69.22 L316.74,69.31 L317.19,69.41 L317.64,69.51 L318.09,69.62 L318.55,69.74 L319.00,69.85 L319.45,69.97 L319.91,70.09 L320.36,70.20 L320.81,70.31 L321.27,70.42 L321.72,70.52 L322.17,70.61 L322.62,70.70 L323.08,70.77 L323.53,70.84 L323.98,70.89 L324.44,70.93 L324.89,70.96 L325.34,70.97 L325.80,70.97 L326.25,70.96 L326.70,70.95 L327.15,70.92 L327.61,70.88 L328.06,70.83 L328.51,70.77 L328.97,70.71 L329.42,70.63 L329.87,70.56 L330.33,70.47 L330.78,70.39 L331.23,70.30 L331.68,70.20 L332.14,70.11 L332.59,70.02 L333.04,69.93 L333.50,69.84 L333.95,69.76" fill="none" stroke="#2ca02c" stroke-width="2.08" stroke-linecap="butt" stroke-linejoin="round" stroke-dasharray="7.7 3.33" clip-path="url(#clip_a)"/>
<path d="M62.64,291.66 L64.34,294.98 L66.05,298.14 L67.76,301.16 L69.46,304.03 L71.17,306.77 L72.88,309.39 L74.58,311.88 L76.29,314.26 L78.00,316.52 L79.70,318.68 L81.41,320.74 L83.12,322.71 L84.82,324.58 L86.53,326.37 L88.24,328.08 L89.94,329.70 L91.65,331.25 L93.36,332.73 L95.06,334.14 L96.77,335.48 L98.48,336.77 L100.18,337.99 L101.89,339.16 L103.60,340.27 L105.30,341.33 L107.01,342.34 L108.72,343.31 L110.42,344.23 L112.13,345.11 L113.84,345.94 L115.54,346.74 L117.25,347.51 L118.96,348.23 L120.66,348.93 L122.37,349.59 L124.08,350.22 L125.78,350.82 L127.49,351.39 L129.20,351.94 L130.90,352.47 L132.61,352.96 L134.32,353.44 L136.02,353.89 L137.73,354.33 L139.44,354.74 L141.14,355.13 L142.85,355.51 L144.56,355.87 L146.26,356.21 L147.97,356.53 L149.68,356.85 L151.38,357.14 L153.09,357.43 L154.80,357.70 L156.50,357.95 L158.21,358.20 L159.92,358.44 L161.62,358.66 L163.33,358.87 L165.04,359.08 L166.74,359.27 L168.45,359.46 L170.16,359.63 L171.86,359.80 L173.57,359.97 L175.28,360.12 L176.98,360.27 L178.69,360.41 L180.40,360.54 L182.10,360.67 L183.81,360.79 L185.52,360.91 L187.22,361.02 L188.93,361.12 L190.64,361.22 L192.34,361.32 L194.05,361.41 L195.76,361.50 L197.46,361.58 L199.17,361.66 L200.88,361.74 L202.58,361.81 L204.29,361.88 L206.00,361.95 L207.70,362.01 L209.41,362.07 L211.12,362.13 L212.82,362.19 L214.53,362.24 L216.24,362.29 L217.94,362.34 L219.65,362.38 L221.36,362.43 L223.06,362.47 L224.77,362.51 L226.48,362.55 L228.18,362.58 L229.89,362.62 L231.60,362.65 L233.30,362.68 L235.01,362.71 L236.72,362.74 L238.42,362.77 L240.13,362.79 L241.84,362.82 L243.55,362.84 L245.25,362.87 L246.96,362.89 L248.67,362.91 L250.37,362.93 L252.08,362.95 L253.79,362.97 L255.49,362.98 L257.20,363.00 L258.91,363.02 L260.61,363.03 L262.32,363.04 L264.03,363.06 L265.73,363.07 L267.44,363.08 L269.15,363.10 L270.85,363.11 L272.56,363.12 L274.27,363.13 L275.97,363.14 L277.68,363.15 L279.39,363.16 L281.09,363.17 L282.80,363.17 L284.51,363.18 L286.21,363.19 L287.92,363.20 L289.63,363.20 L291.33,363.21 L293.04,363.22 L294.75,363.22 L296.45,363.23 L298.16,363.23 L299.87,363.24 L301.57,363.24 L303.28,363.25 L304.99,363.25 L306.69,363.26 L308.40,363.26 L310.11,363.27 L311.81,363.27 L313.52,363.27 L315.23,363.28 L316.93,363.28 L318.64,363.28 L320.35,363.29 L322.05,363.29 L323.76,363.29 L325.47,363.29 L327.17,363.30 L328.88,363.30 L330.59,363.30 L332.29,363.30 L334.00,363.31" fill="none" stroke="#1f77b4" stroke-width="2.08" stroke-linecap="square" stroke-linejoin="round" clip-path="url(#clip_b)"/>
<path d="M62.64,233.64 L64.34,250.73 L66.05,263.61 L67.76,273.80 L69.46,282.15 L71.17,289.16 L72.88,295.16 L74.58,300.37 L76.29,304.95 L78.00,309.01 L79.70,312.65 L81.41,315.93 L83.12,318.90 L84.82,321.61 L86.53,324.09 L88.24,326.36 L89.94,328.46 L91.65,330.40 L93.36,332.20 L95.06,333.87 L96.77,335.43 L98.48,336.88 L100.18,338.24 L101.89,339.51 L103.60,340.70 L105.30,341.82 L107.01,342.87 L108.72,343.86 L110.42,344.79 L112.13,345.67 L113.84,346.50 L115.54,347.29 L117.25,348.03 L118.96,348.74 L120.66,349.40 L122.37,350.03 L124.08,350.63 L125.78,351.20 L127.49,351.74 L129.20,352.25 L130.90,352.74 L132.61,353.21 L134.32,353.66 L136.02,354.10 L137.73,354.51 L139.44,354.91 L141.14,355.30 L142.85,355.67 L144.56,356.02 L146.26,356.37 L147.97,356.69 L149.68,357.00 L151.38,357.30 L153.09,357.58 L154.80,357.85 L156.50,358.10 L158.21,358.34 L159.92,358.57 L161.62,358.79 L163.33,358.99 L165.04,359.19 L166.74,359.38 L168.45,359.56 L170.16,359.73 L171.86,359.90 L173.57,360.06 L175.28,360.21 L176.98,360.35 L178.69,360.49 L180.40,360.62 L182.10,360.74 L183.81,360.86 L185.52,360.97 L187.22,361.08 L188.93,361.18 L190.64,361.28 L192.34,361.38 L194.05,361.46 L195.76,361.55 L197.46,361.63 L199.17,361.71 L200.88,361.78 L202.58,361.86 L204.29,361.92 L206.00,361.99 L207.70,362.05 L209.41,362.11 L211.12,362.16 L212.82,362.22 L214.53,362.27 L216.24,362.32 L217.94,362.36 L219.65,362.41 L221.36,362.45 L223.06,362.49 L224.77,362.53 L226.48,362.57 L228.18,362.60 L229.89,362.64 L231.60,362.67 L233.30,362.70 L235.01,362.73 L236.72,362.76 L238.42,362.78 L240.13,362.81 L241.84,362.83 L243.55,362.86 L245.25,362.88 L246.96,362.90 L248.67,362.92 L250.37,362.94 L252.08,362.96 L253.79,362.98 L255.49,362.99 L257.20,363.01 L258.91,363.02 L260.61,363.04 L262.32,363.05 L264.03,363.07 L265.73,363.08 L267.44,363.09 L269.15,363.10 L270.85,363.11 L272.56,363.12 L274.27,363.13 L275.97,363.14 L277.68,363.15 L279.39,363.16 L281.09,363.17 L282.80,363.18 L284.51,363.19 L286.21,363.19 L287.92,363.20 L289.63,363.21 L291.33,363.21 L293.04,363.22 L294.75,363.23 L296.45,363.23 L298.16,363.24 L299.87,363.24 L301.57,363.25 L303.28,363.25 L304.99,363.26 L306.69,363.26 L308.40,363.26 L310.11,363.27 L311.81,363.27 L313.52,363.27 L315.23,363.28 L316.93,363.28 L318.64,363.28 L320.35,363.29 L322.05,363.29 L323.76,363.29 L325.47,363.30 L327.17,363.30 L328.88,363.30 L330.59,363.30 L332.29,363.30 L334.00,363.31" fill="none" stroke="#ff7f0e" stroke-width="2.08" stroke-linecap="square" stroke-linejoin="round" clip-path="url(#clip_b)"/>
<path d="M399.45,68.83 L399.52,69.32 L399.59,69.77 L399.65,70.19 L399.72,70.58 L399.79,70.95 L399.86,71.30 L399.93,71.64 L399.99,71.96 L400.21,72.91 L400.43,73.75 L400.66,74.52 L400.88,75.21 L401.10,75.86 L401.32,76.46 L401.54,77.03 L401.76,77.56 L401.98,78.06 L402.20,78.54 L402.42,78.99 L402.64,79.43 L402.86,79.84 L403.09,80.24 L403.31,80.62 L403.53,80.99 L403.75,81.35 L403.97,81.69 L404.19,82.02 L404.41,82.35 L404.63,82.66 L404.85,82.96 L405.07,83.26 L405.29,83.54 L405.52,83.82 L405.74,84.09 L405.96,84.36 L406.18,84.61 L406.40,84.87 L406.62,85.11 L406.84,85.35 L407.06,85.59 L407.28,85.82 L407.50,86.05 L407.72,86.27 L407.94,86.48 L408.17,86.70 L408.39,86.90 L408.61,87.11 L408.83,87.31 L409.05,87.51 L409.27,87.70 L409.49,87.89 L409.71,88.08 L409.93,88.26 L410.15,88.44 L410.37,88.62 L410.60,88.79 L410.82,88.97 L411.04,89.14 L411.26,89.30 L411.48,89.47 L411.70,89.63 L411.92,89.79 L412.14,89.95 L412.36,90.10 L412.58,90.26 L412.80,90.41 L413.02,90.56 L415.19,91.93 L417.36,93.15 L419.53,94.25 L421.69,95.25 L423.86,96.18 L426.03,97.03 L428.20,97.83 L430.36,98.57 L432.53,99.26 L434.70,99.92 L436.87,100.54 L439.03,101.13 L441.20,101.69 L443.37,102.22 L445.54,102.73 L447.70,103.22 L449.87,103.68 L452.04,104.13 L454.21,104.56 L456.37,104.97 L458.54,105.37 L460.71,105.76 L462.88,106.13 L465.04,106.49 L467.21,106.84 L469.38,107.18 L471.55,107.51 L473.71,107.82 L475.88,108.13 L478.05,108.43 L480.22,108.73 L482.38,109.01 L484.55,109.29 L486.72,109.56 L488.89,109.82 L491.05,110.08 L493.22,110.33 L495.39,110.57 L497.56,110.81 L499.72,111.05 L501.89,111.28 L504.06,111.50 L506.22,111.72 L508.39,111.94 L510.56,112.15 L512.73,112.35 L514.89,112.56 L517.06,112.75 L519.23,112.95 L521.40,113.14 L523.56,113.33 L525.73,113.51 L527.90,113.69 L530.07,113.87 L532.23,114.05 L534.40,114.22 L536.57,114.39 L538.74,114.55 L540.90,114.72 L543.07,114.88 L545.24,115.03 L547.41,115.19 L549.57,115.34 L551.74,115.49 L553.91,115.64 L556.08,115.79 L558.24,115.93 L560.41,116.08 L562.58,116.22 L564.75,116.35 L566.91,116.49 L569.08,116.63 L571.25,116.76 L573.42,116.89 L575.58,117.02 L577.75,117.15 L579.92,117.27 L582.09,117.40 L584.25,117.52 L586.42,117.64 L588.59,117.76 L590.75,117.88 L592.92,117.99 L595.09,118.11 L597.26,118.22 L599.42,118.33 L601.59,118.44 L603.76,118.55 L605.93,118.66 L608.09,118.77 L610.26,118.88 L612.43,118.98 L614.60,119.08 L616.76,119.19 L618.93,119.29 L621.10,119.39 L623.27,119.49 L625.43,119.59 L627.60,119.68 L629.77,119.78 L631.94,119.88 L634.10,119.97 L636.27,120.06 L638.44,120.15 L640.61,120.25 L642.77,120.34 L644.94,120.43 L647.11,120.51 L649.28,120.60 L651.44,120.69 L653.61,120.78 L655.78,120.86 L657.95,120.95 L660.11,121.03 L662.28,121.11 L664.45,121.19 L666.62,121.28 L668.78,121.36 L670.95,121.44" fill="none" stroke="#1f77b4" stroke-width="2.08" stroke-linecap="square" stroke-linejoin="round" clip-path="url(#clip_c)"/>
<path d="M399.45,17.34 L399.52,18.82 L399.59,20.25 L399.65,21.64 L399.72,22.99 L399.79,24.30 L399.86,25.57 L399.93,26.80 L399.99,27.99 L400.21,31.63 L400.43,34.95 L400.66,37.99 L400.88,40.80 L401.10,43.39 L401.32,45.81 L401.54,48.07 L401.76,50.18 L401.98,52.17 L402.20,54.05 L402.42,55.82 L402.64,57.50 L402.86,59.10 L403.09,60.62 L403.31,62.07 L403.53,63.45 L403.75,64.78 L403.97,66.04 L404.19,67.26 L404.41,68.43 L404.63,69.56 L404.85,70.64 L405.07,71.68 L405.29,72.69 L405.52,73.66 L405.74,74.60 L405.96,75.51 L406.18,76.39 L406.40,77.25 L406.62,78.07 L406.84,78.88 L407.06,79.66 L407.28,80.42 L407.50,81.15 L407.72,81.87 L407.94,82.57 L408.17,83.25 L408.39,83.91 L408.61,84.55 L408.83,85.18 L409.05,85.79 L409.27,86.39 L409.49,86.98 L409.71,87.55 L409.93,88.11 L410.15,88.65 L410.37,89.19 L410.60,89.71 L410.82,90.22 L411.04,90.72 L411.26,91.21 L411.48,91.69 L411.70,92.16 L411.92,92.62 L412.14,93.07 L412.36,93.52 L412.58,93.95 L412.80,94.38 L413.02,94.80 L415.19,98.53 L417.36,101.70 L419.53,104.45 L421.69,106.85 L423.86,108.97 L426.03,110.87 L428.20,112.58 L430.36,114.13 L432.53,115.54 L434.70,116.83 L436.87,118.02 L439.03,119.12 L441.20,120.14 L443.37,121.09 L445.54,121.97 L447.70,122.80 L449.87,123.58 L452.04,124.31 L454.21,125.00 L456.37,125.65 L458.54,126.27 L460.71,126.85 L462.88,127.40 L465.04,127.93 L467.21,128.43 L469.38,128.91 L471.55,129.37 L473.71,129.81 L475.88,130.23 L478.05,130.63 L480.22,131.01 L482.38,131.38 L484.55,131.74 L486.72,132.08 L488.89,132.41 L491.05,132.72 L493.22,133.03 L495.39,133.32 L497.56,133.61 L499.72,133.88 L501.89,134.15 L504.06,134.40 L506.22,134.65 L508.39,134.89 L510.56,135.13 L512.73,135.35 L514.89,135.57 L517.06,135.79 L519.23,135.99 L521.40,136.19 L523.56,136.39 L525.73,136.58 L527.90,136.76 L530.07,136.94 L532.23,137.12 L534.40,137.29 L536.57,137.46 L538.74,137.62 L540.90,137.78 L543.07,137.93 L545.24,138.08 L547.41,138.23 L549.57,138.37 L551.74,138.51 L553.91,138.65 L556.08,138.78 L558.24,138.91 L560.41,139.04 L562.58,139.16 L564.75,139.29 L566.91,139.41 L569.08,139.52 L571.25,139.64 L573.42,139.75 L575.58,139.86 L577.75,139.97 L579.92,140.07 L582.09,140.18 L584.25,140.28 L586.42,140.38 L588.59,140.47 L590.75,140.57 L592.92,140.66 L595.09,140.76 L597.26,140.85 L599.42,140.93 L601.59,141.02 L603.76,141.11 L605.93,141.19 L608.09,141.27 L610.26,141.35 L612.43,141.43 L614.60,141.51 L616.76,141.59 L618.93,141.66 L621.10,141.74 L623.27,141.81 L625.43,141.88 L627.60,141.95 L629.77,142.02 L631.94,142.09 L634.10,142.16 L636.27,142.23 L638.44,142.29 L640.61,142.36 L642.77,142.42 L644.94,142.48 L647.11,142.54 L649.28,142.60 L651.44,142.66 L653.61,142.72 L655.78,142.78 L657.95,142.84 L660.11,142.89 L662.28,142.95 L664.45,143.00 L666.62,143.05 L668.78,143.11 L670.95,143.16" fill="none" stroke="#ff7f0e" stroke-width="2.08" stroke-linecap="square" stroke-linejoin="round" clip-path="url(#clip_c)"/>
<path d="M399.45,55.81 L399.52,58.90 L399.59,61.53 L399.65,63.82 L399.72,65.86 L399.79,67.70 L399.86,69.38 L399.93,70.92 L399.99,72.34 L400.21,76.36 L400.43,79.68 L400.66,82.52 L400.88,84.98 L401.10,87.17 L401.32,89.12 L401.54,90.89 L401.76,92.51 L401.98,93.99 L402.20,95.36 L402.42,96.63 L402.64,97.82 L402.86,98.93 L403.09,99.98 L403.31,100.96 L403.53,101.89 L403.75,102.77 L403.97,103.61 L404.19,104.41 L404.41,105.17 L404.63,105.89 L404.85,106.59 L405.07,107.25 L405.29,107.89 L405.52,108.50 L405.74,109.09 L405.96,109.66 L406.18,110.20 L406.40,110.73 L406.62,111.24 L406.84,111.73 L407.06,112.21 L407.28,112.67 L407.50,113.12 L407.72,113.55 L407.94,113.97 L408.17,114.38 L408.39,114.78 L408.61,115.16 L408.83,115.54 L409.05,115.90 L409.27,116.26 L409.49,116.60 L409.71,116.94 L409.93,117.27 L410.15,117.59 L410.37,117.90 L410.60,118.21 L410.82,118.51 L411.04,118.80 L411.26,119.09 L411.48,119.37 L411.70,119.64 L411.92,119.91 L412.14,120.17 L412.36,120.42 L412.58,120.67 L412.80,120.92 L413.02,121.16 L415.19,123.30 L417.36,125.09 L419.53,126.63 L421.69,127.97 L423.86,129.15 L426.03,130.20 L428.20,131.13 L430.36,131.98 L432.53,132.74 L434.70,133.44 L436.87,134.09 L439.03,134.68 L441.20,135.23 L443.37,135.74 L445.54,136.21 L447.70,136.65 L449.87,137.06 L452.04,137.45 L454.21,137.82 L456.37,138.16 L458.54,138.49 L460.71,138.79 L462.88,139.09 L465.04,139.36 L467.21,139.63 L469.38,139.88 L471.55,140.12 L473.71,140.34 L475.88,140.56 L478.05,140.77 L480.22,140.97 L482.38,141.16 L484.55,141.35 L486.72,141.52 L488.89,141.69 L491.05,141.86 L493.22,142.01 L495.39,142.17 L497.56,142.31 L499.72,142.45 L501.89,142.59 L504.06,142.72 L506.22,142.85 L508.39,142.97 L510.56,143.09 L512.73,143.21 L514.89,143.32 L517.06,143.43 L519.23,143.53 L521.40,143.63 L523.56,143.73 L525.73,143.83 L527.90,143.92 L530.07,144.01 L532.23,144.10 L534.40,144.19 L536.57,144.27 L538.74,144.35 L540.90,144.43 L543.07,144.51 L545.24,144.59 L547.41,144.66 L549.57,144.73 L551.74,144.80 L553.91,144.87 L556.08,144.94 L558.24,145.00 L560.41,145.07 L562.58,145.13 L564.75,145.19 L566.91,145.25 L569.08,145.31 L571.25,145.36 L573.42,145.42 L575.58,145.47 L577.75,145.53 L579.92,145.58 L582.09,145.63 L584.25,145.68 L586.42,145.73 L588.59,145.78 L590.75,145.83 L592.92,145.87 L595.09,145.92 L597.26,145.96 L599.42,146.01 L601.59,146.05 L603.76,146.09 L605.93,146.13 L608.09,146.17 L610.26,146.21 L612.43,146.25 L614.60,146.29 L616.76,146.33 L618.93,146.36 L621.10,146.40 L623.27,146.44 L625.43,146.47 L627.60,146.51 L629.77,146.54 L631.94,146.57 L634.10,146.61 L636.27,146.64 L638.44,146.67 L640.61,146.70 L642.77,146.73 L644.94,146.76 L647.11,146.79 L649.28,146.82 L651.44,146.85 L653.61,146.88 L655.78,146.90 L657.95,146.93 L660.11,146.96 L662.28,146.99 L664.45,147.01 L666.62,147.04 L668.78,147.06 L670.95,147.09" fill="none" stroke="#2ca02c" stroke-width="2.08" stroke-linecap="square" stroke-linejoin="round" clip-path="url(#clip_c)"/>
<path d="M399.45,233.86 L399.52,240.83 L399.59,246.24 L399.65,250.63 L399.72,254.32 L399.79,257.51 L399.86,260.31 L399.93,262.81 L399.99,265.06 L400.21,271.17 L400.43,275.97 L400.66,279.93 L400.88,283.28 L401.10,286.19 L401.32,288.75 L401.54,291.03 L401.76,293.08 L401.98,294.95 L402.20,296.67 L402.42,298.24 L402.64,299.71 L402.86,301.07 L403.09,302.34 L403.31,303.53 L403.53,304.65 L403.75,305.71 L403.97,306.71 L404.19,307.66 L404.41,308.56 L404.63,309.42 L404.85,310.24 L405.07,311.03 L405.29,311.78 L405.52,312.50 L405.74,313.19 L405.96,313.86 L406.18,314.50 L406.40,315.11 L406.62,315.71 L406.84,316.28 L407.06,316.84 L407.28,317.37 L407.50,317.89 L407.72,318.40 L407.94,318.89 L408.17,319.36 L408.39,319.82 L408.61,320.27 L408.83,320.70 L409.05,321.13 L409.27,321.54 L409.49,321.94 L409.71,322.33 L409.93,322.71 L410.15,323.09 L410.37,323.45 L410.60,323.80 L410.82,324.15 L411.04,324.49 L411.26,324.82 L411.48,325.14 L411.70,325.46 L411.92,325.77 L412.14,326.07 L412.36,326.37 L412.58,326.66 L412.80,326.95 L413.02,327.23 L415.19,329.71 L417.36,331.81 L419.53,333.61 L421.69,335.19 L423.86,336.59 L426.03,337.84 L428.20,338.96 L430.36,339.98 L432.53,340.91 L434.70,341.77 L436.87,342.56 L439.03,343.29 L441.20,343.98 L443.37,344.61 L445.54,345.21 L447.70,345.77 L449.87,346.30 L452.04,346.80 L454.21,347.27 L456.37,347.72 L458.54,348.14 L460.71,348.54 L462.88,348.93 L465.04,349.30 L467.21,349.65 L469.38,349.99 L471.55,350.31 L473.71,350.62 L475.88,350.92 L478.05,351.20 L480.22,351.48 L482.38,351.74 L484.55,352.00 L486.72,352.25 L488.89,352.48 L491.05,352.72 L493.22,352.94 L495.39,353.15 L497.56,353.36 L499.72,353.57 L501.89,353.76 L504.06,353.95 L506.22,354.14 L508.39,354.32 L510.56,354.50 L512.73,354.67 L514.89,354.83 L517.06,354.99 L519.23,355.15 L521.40,355.31 L523.56,355.46 L525.73,355.60 L527.90,355.74 L530.07,355.88 L532.23,356.02 L534.40,356.15 L536.57,356.28 L538.74,356.41 L540.90,356.53 L543.07,356.65 L545.24,356.77 L547.41,356.89 L549.57,357.00 L551.74,357.11 L553.91,357.22 L556.08,357.33 L558.24,357.43 L560.41,357.54 L562.58,357.64 L564.75,357.74 L566.91,357.83 L569.08,357.93 L571.25,358.02 L573.42,358.11 L575.58,358.20 L577.75,358.29 L579.92,358.38 L582.09,358.46 L584.25,358.55 L586.42,358.63 L588.59,358.71 L590.75,358.79 L592.92,358.87 L595.09,358.95 L597.26,359.02 L599.42,359.10 L601.59,359.17 L603.76,359.24 L605.93,359.32 L608.09,359.39 L610.26,359.45 L612.43,359.52 L614.60,359.59 L616.76,359.66 L618.93,359.72 L621.10,359.79 L623.27,359.85 L625.43,359.91 L627.60,359.97 L629.77,360.03 L631.94,360.09 L634.10,360.15 L636.27,360.21 L638.44,360.27 L640.61,360.32 L642.77,360.38 L644.94,360.43 L647.11,360.49 L649.28,360.54 L651.44,360.59 L653.61,360.65 L655.78,360.70 L657.95,360.75 L660.11,360.80 L662.28,360.85 L664.45,360.90 L666.62,360.95 L668.78,361.00 L670.95,361.04" fill="none" stroke="#1f77b4" stroke-width="2.08" stroke-linecap="square" stroke-linejoin="round" clip-path="url(#clip_d)"/>
<path d="M399.45,363.10 L399.52,362.76 L399.59,361.96 L399.65,360.97 L399.72,359.90 L399.79,358.82 L399.86,357.74 L399.93,356.70 L399.99,355.70 L400.21,352.71 L400.43,350.13 L400.66,347.91 L400.88,345.99 L401.10,344.31 L401.32,342.83 L401.54,341.52 L401.76,340.33 L401.98,339.25 L402.20,338.27 L402.42,337.37 L402.64,336.53 L402.86,335.75 L403.09,335.03 L403.31,334.35 L403.53,333.71 L403.75,333.11 L403.97,332.55 L404.19,332.01 L404.41,331.50 L404.63,331.02 L404.85,330.56 L405.07,330.12 L405.29,329.70 L405.52,329.29 L405.74,328.90 L405.96,328.53 L406.18,328.17 L406.40,327.82 L406.62,327.48 L406.84,327.15 L407.06,326.83 L407.28,326.52 L407.50,326.21 L407.72,325.92 L407.94,325.63 L408.17,325.34 L408.39,325.07 L408.61,324.80 L408.83,324.53 L409.05,324.27 L409.27,324.01 L409.49,323.76 L409.71,323.52 L409.93,323.28 L410.15,323.05 L410.37,322.82 L410.60,322.59 L410.82,322.37 L411.04,322.15 L411.26,321.94 L411.48,321.74 L411.70,321.54 L411.92,321.34 L412.14,321.14 L412.36,320.96 L412.58,320.77 L412.80,320.59 L413.02,320.41 L415.19,318.87 L417.36,317.64 L419.53,316.64 L421.69,315.83 L423.86,315.17 L426.03,314.63 L428.20,314.19 L430.36,313.84 L432.53,313.55 L434.70,313.33 L436.87,313.16 L439.03,313.03 L441.20,312.94 L443.37,312.89 L445.54,312.86 L447.70,312.85 L449.87,312.87 L452.04,312.90 L454.21,312.95 L456.37,313.02 L458.54,313.10 L460.71,313.19 L462.88,313.29 L465.04,313.40 L467.21,313.52 L469.38,313.64 L471.55,313.78 L473.71,313.92 L475.88,314.06 L478.05,314.21 L480.22,314.36 L482.38,314.52 L484.55,314.68 L486.72,314.85 L488.89,315.02 L491.05,315.19 L493.22,315.36 L495.39,315.54 L497.56,315.71 L499.72,315.89 L501.89,316.07 L504.06,316.25 L506.22,316.44 L508.39,316.62 L510.56,316.81 L512.73,316.99 L514.89,317.18 L517.06,317.36 L519.23,317.55 L521.40,317.74 L523.56,317.92 L525.73,318.11 L527.90,318.29 L530.07,318.48 L532.23,318.66 L534.40,318.84 L536.57,319.02 L538.74,319.21 L540.90,319.39 L543.07,319.57 L545.24,319.75 L547.41,319.92 L549.57,320.10 L551.74,320.28 L553.91,320.45 L556.08,320.62 L558.24,320.80 L560.41,320.97 L562.58,321.14 L564.75,321.31 L566.91,321.47 L569.08,321.64 L571.25,321.81 L573.42,321.97 L575.58,322.13 L577.75,322.29 L579.92,322.45 L582.09,322.61 L584.25,322.77 L586.42,322.93 L588.59,323.08 L590.75,323.24 L592.92,323.39 L595.09,323.54 L597.26,323.69 L599.42,323.84 L601.59,323.99 L603.76,324.14 L605.93,324.28 L608.09,324.43 L610.26,324.57 L612.43,324.71 L614.60,324.85 L616.76,324.99 L618.93,325.13 L621.10,325.27 L623.27,325.41 L625.43,325.54 L627.60,325.68 L629.77,325.81 L631.94,325.94 L634.10,326.07 L636.27,326.20 L638.44,326.33 L640.61,326.46 L642.77,326.59 L644.94,326.71 L647.11,326.84 L649.28,326.96 L651.44,327.08 L653.61,327.21 L655.78,327.33 L657.95,327.45 L660.11,327.56 L662.28,327.68 L664.45,327.80 L666.62,327.91 L668.78,328.03 L670.95,328.14" fill="none" stroke="#ff7f0e" stroke-width="2.08" stroke-linecap="square" stroke-linejoin="round" clip-path="url(#clip_d)"/>
<path d="M399.45,235.03 L399.52,235.94 L399.59,236.90 L399.65,237.87 L399.72,238.84 L399.79,239.79 L399.86,240.73 L399.93,241.64 L399.99,242.53 L400.21,245.27 L400.43,247.78 L400.66,250.10 L400.88,252.24 L401.10,254.24 L401.32,256.11 L401.54,257.86 L401.76,259.51 L401.98,261.07 L402.20,262.56 L402.42,263.96 L402.64,265.31 L402.86,266.59 L403.09,267.82 L403.31,268.99 L403.53,270.12 L403.75,271.21 L403.97,272.26 L404.19,273.26 L404.41,274.24 L404.63,275.18 L404.85,276.09 L405.07,276.98 L405.29,277.83 L405.52,278.66 L405.74,279.47 L405.96,280.25 L406.18,281.01 L406.40,281.76 L406.62,282.48 L406.84,283.18 L407.06,283.87 L407.28,284.54 L407.50,285.19 L407.72,285.83 L407.94,286.45 L408.17,287.06 L408.39,287.66 L408.61,288.24 L408.83,288.81 L409.05,289.37 L409.27,289.92 L409.49,290.45 L409.71,290.98 L409.93,291.49 L410.15,292.00 L410.37,292.49 L410.60,292.98 L410.82,293.46 L411.04,293.93 L411.26,294.39 L411.48,294.84 L411.70,295.28 L411.92,295.72 L412.14,296.15 L412.36,296.57 L412.58,296.99 L412.80,297.40 L413.02,297.80 L415.19,301.44 L417.36,304.61 L419.53,307.41 L421.69,309.91 L423.86,312.16 L426.03,314.21 L428.20,316.07 L430.36,317.79 L432.53,319.38 L434.70,320.85 L436.87,322.21 L439.03,323.49 L441.20,324.69 L443.37,325.82 L445.54,326.88 L447.70,327.89 L449.87,328.84 L452.04,329.74 L454.21,330.59 L456.37,331.41 L458.54,332.19 L460.71,332.93 L462.88,333.64 L465.04,334.32 L467.21,334.97 L469.38,335.59 L471.55,336.19 L473.71,336.77 L475.88,337.32 L478.05,337.86 L480.22,338.38 L482.38,338.87 L484.55,339.36 L486.72,339.82 L488.89,340.27 L491.05,340.71 L493.22,341.13 L495.39,341.54 L497.56,341.93 L499.72,342.32 L501.89,342.69 L504.06,343.06 L506.22,343.41 L508.39,343.75 L510.56,344.09 L512.73,344.41 L514.89,344.73 L517.06,345.04 L519.23,345.34 L521.40,345.63 L523.56,345.91 L525.73,346.19 L527.90,346.47 L530.07,346.73 L532.23,346.99 L534.40,347.24 L536.57,347.49 L538.74,347.73 L540.90,347.97 L543.07,348.20 L545.24,348.43 L547.41,348.65 L549.57,348.87 L551.74,349.08 L553.91,349.29 L556.08,349.49 L558.24,349.69 L560.41,349.89 L562.58,350.08 L564.75,350.27 L566.91,350.46 L569.08,350.64 L571.25,350.82 L573.42,350.99 L575.58,351.16 L577.75,351.33 L579.92,351.50 L582.09,351.66 L584.25,351.82 L586.42,351.98 L588.59,352.13 L590.75,352.28 L592.92,352.43 L595.09,352.58 L597.26,352.72 L599.42,352.87 L601.59,353.01 L603.76,353.14 L605.93,353.28 L608.09,353.41 L610.26,353.54 L612.43,353.67 L614.60,353.80 L616.76,353.92 L618.93,354.05 L621.10,354.17 L623.27,354.29 L625.43,354.41 L627.60,354.52 L629.77,354.64 L631.94,354.75 L634.10,354.86 L636.27,354.97 L638.44,355.08 L640.61,355.19 L642.77,355.29 L644.94,355.39 L647.11,355.50 L649.28,355.60 L651.44,355.70 L653.61,355.80 L655.78,355.89 L657.95,355.99 L660.11,356.08 L662.28,356.18 L664.45,356.27 L666.62,356.36 L668.78,356.45 L670.95,356.54" fill="none" stroke="#2ca02c" stroke-width="2.08" stroke-linecap="square" stroke-linejoin="round" clip-path="url(#clip_d)"/>
<line x1="62.60" y1="153.55" x2="62.60" y2="158.41" stroke="#000" stroke-width="1.11"/>
<text x="62.60" y="173.55" font-size="13.89" text-anchor="middle" >0</text>
<line x1="153.05" y1="153.55" x2="153.05" y2="158.41" stroke="#000" stroke-width="1.11"/>
<text x="153.05" y="173.55" font-size="13.89" text-anchor="middle" >5</text>
<line x1="243.50" y1="153.55" x2="243.50" y2="158.41" stroke="#000" stroke-width="1.11"/>
<text x="243.50" y="173.55" font-size="13.89" text-anchor="middle" >10</text>
<line x1="333.95" y1="153.55" x2="333.95" y2="158.41" stroke="#000" stroke-width="1.11"/>
<text x="333.95" y="173.55" font-size="13.89" text-anchor="middle" >15</text>
<line x1="44.24" y1="118.70" x2="49.10" y2="118.70" stroke="#000" stroke-width="1.11"/>
<text x="39.10" y="124.00" font-size="13.89" text-anchor="end" >1</text>
<text x="21.90" y="125.20" font-size="13.89" textLength="9.60" lengthAdjust="spacingAndGlyphs" >−</text>
<line x1="44.24" y1="70.05" x2="49.10" y2="70.05" stroke="#000" stroke-width="1.11"/>
<text x="39.10" y="75.35" font-size="13.89" text-anchor="end" >0</text>
<line x1="44.24" y1="21.40" x2="49.10" y2="21.40" stroke="#000" stroke-width="1.11"/>
<text x="39.10" y="26.70" font-size="13.89" text-anchor="end" >1</text>
<rect x="49.10" y="10.60" width="298.50" height="142.95" fill="none" stroke="#000" stroke-width="1.11"/>
<line x1="59.20" y1="369.60" x2="59.20" y2="374.46" stroke="#000" stroke-width="1.11"/>
<text x="59.20" y="389.60" font-size="13.89" text-anchor="middle" >0</text>
<line x1="127.90" y1="369.60" x2="127.90" y2="374.46" stroke="#000" stroke-width="1.11"/>
<text x="127.90" y="389.60" font-size="13.89" text-anchor="middle" >2</text>
<line x1="196.60" y1="369.60" x2="196.60" y2="374.46" stroke="#000" stroke-width="1.11"/>
<text x="196.60" y="389.60" font-size="13.89" text-anchor="middle" >4</text>
<line x1="265.30" y1="369.60" x2="265.30" y2="374.46" stroke="#000" stroke-width="1.11"/>
<text x="265.30" y="389.60" font-size="13.89" text-anchor="middle" >6</text>
<line x1="334.00" y1="369.60" x2="334.00" y2="374.46" stroke="#000" stroke-width="1.11"/>
<text x="334.00" y="389.60" font-size="13.89" text-anchor="middle" >8</text>
<line x1="44.24" y1="363.35" x2="49.10" y2="363.35" stroke="#000" stroke-width="1.11"/>
<text x="39.10" y="368.65" font-size="13.89" text-anchor="end" >0</text>
<line x1="44.24" y1="315.07" x2="49.10" y2="315.07" stroke="#000" stroke-width="1.11"/>
<text x="39.10" y="320.37" font-size="13.89" text-anchor="end" >2</text>
<line x1="44.24" y1="266.79" x2="49.10" y2="266.79" stroke="#000" stroke-width="1.11"/>
<text x="39.10" y="272.09" font-size="13.89" text-anchor="end" >4</text>
<rect x="49.10" y="226.70" width="298.50" height="142.90" fill="none" stroke="#000" stroke-width="1.11"/>
<line x1="399.45" y1="153.55" x2="399.45" y2="158.41" stroke="#000" stroke-width="1.11"/>
<text x="399.45" y="173.55" font-size="13.89" text-anchor="middle" >0</text>
<line x1="453.75" y1="153.55" x2="453.75" y2="158.41" stroke="#000" stroke-width="1.11"/>
<text x="453.75" y="173.55" font-size="13.89" text-anchor="middle" >2</text>
<line x1="508.05" y1="153.55" x2="508.05" y2="158.41" stroke="#000" stroke-width="1.11"/>
<text x="508.05" y="173.55" font-size="13.89" text-anchor="middle" >4</text>
<line x1="562.35" y1="153.55" x2="562.35" y2="158.41" stroke="#000" stroke-width="1.11"/>
<text x="562.35" y="173.55" font-size="13.89" text-anchor="middle" >6</text>
<line x1="616.65" y1="153.55" x2="616.65" y2="158.41" stroke="#000" stroke-width="1.11"/>
<text x="616.65" y="173.55" font-size="13.89" text-anchor="middle" >8</text>
<line x1="670.95" y1="153.55" x2="670.95" y2="158.41" stroke="#000" stroke-width="1.11"/>
<text x="670.95" y="173.55" font-size="13.89" text-anchor="middle" >10</text>
<line x1="381.14" y1="150.10" x2="386.00" y2="150.10" stroke="#000" stroke-width="1.11"/>
<text x="376.00" y="155.40" font-size="13.89" text-anchor="end" textLength="18.00" lengthAdjust="spacingAndGlyphs" >0.0</text>
<line x1="381.14" y1="113.55" x2="386.00" y2="113.55" stroke="#000" stroke-width="1.11"/>
<text x="376.00" y="118.85" font-size="13.89" text-anchor="end" textLength="18.00" lengthAdjust="spacingAndGlyphs" >0.5</text>
<line x1="381.14" y1="77.00" x2="386.00" y2="77.00" stroke="#000" stroke-width="1.11"/>
<text x="376.00" y="82.30" font-size="13.89" text-anchor="end" textLength="18.00" lengthAdjust="spacingAndGlyphs" >1.0</text>
<line x1="381.14" y1="40.45" x2="386.00" y2="40.45" stroke="#000" stroke-width="1.11"/>
<text x="376.00" y="45.75" font-size="13.89" text-anchor="end" textLength="18.00" lengthAdjust="spacingAndGlyphs" >1.5</text>
<rect x="386.00" y="10.60" width="298.60" height="142.95" fill="none" stroke="#000" stroke-width="1.11"/>
<line x1="399.45" y1="369.60" x2="399.45" y2="374.46" stroke="#000" stroke-width="1.11"/>
<text x="399.45" y="389.60" font-size="13.89" text-anchor="middle" >0</text>
<line x1="453.75" y1="369.60" x2="453.75" y2="374.46" stroke="#000" stroke-width="1.11"/>
<text x="453.75" y="389.60" font-size="13.89" text-anchor="middle" >2</text>
<line x1="508.05" y1="369.60" x2="508.05" y2="374.46" stroke="#000" stroke-width="1.11"/>
<text x="508.05" y="389.60" font-size="13.89" text-anchor="middle" >4</text>
<line x1="562.35" y1="369.60" x2="562.35" y2="374.46" stroke="#000" stroke-width="1.11"/>
<text x="562.35" y="389.60" font-size="13.89" text-anchor="middle" >6</text>
<line x1="616.65" y1="369.60" x2="616.65" y2="374.46" stroke="#000" stroke-width="1.11"/>
<text x="616.65" y="389.60" font-size="13.89" text-anchor="middle" >8</text>
<line x1="670.95" y1="369.60" x2="670.95" y2="374.46" stroke="#000" stroke-width="1.11"/>
<text x="670.95" y="389.60" font-size="13.89" text-anchor="middle" >10</text>
<line x1="381.14" y1="320.40" x2="386.00" y2="320.40" stroke="#000" stroke-width="1.11"/>
<text x="376.00" y="325.70" font-size="13.89" text-anchor="end" >2</text>
<line x1="381.14" y1="270.50" x2="386.00" y2="270.50" stroke="#000" stroke-width="1.11"/>
<text x="376.00" y="275.80" font-size="13.89" text-anchor="end" >4</text>
<rect x="386.00" y="226.70" width="298.60" height="142.90" fill="none" stroke="#000" stroke-width="1.11"/>
<text x="19.70" y="11.00" font-size="15.30" textLength="4.70" lengthAdjust="spacingAndGlyphs" >(</text>
<text x="24.60" y="10.50" font-size="13.89" textLength="7.00" lengthAdjust="spacingAndGlyphs" >a</text>
<text x="32.00" y="11.00" font-size="15.30" textLength="4.70" lengthAdjust="spacingAndGlyphs" >)</text>
<text x="19.40" y="226.90" font-size="15.30" textLength="4.70" lengthAdjust="spacingAndGlyphs" >(</text>
<text x="24.30" y="226.40" font-size="13.89" textLength="7.70" lengthAdjust="spacingAndGlyphs" >b</text>
<text x="32.40" y="226.90" font-size="15.30" textLength="4.70" lengthAdjust="spacingAndGlyphs" >)</text>
<text x="356.50" y="11.00" font-size="15.30" textLength="4.70" lengthAdjust="spacingAndGlyphs" >(</text>
<text x="361.40" y="10.50" font-size="13.89" textLength="6.20" lengthAdjust="spacingAndGlyphs" >c</text>
<text x="368.00" y="11.00" font-size="15.30" textLength="4.70" lengthAdjust="spacingAndGlyphs" >)</text>
<text x="356.90" y="226.90" font-size="15.30" textLength="4.70" lengthAdjust="spacingAndGlyphs" >(</text>
<text x="361.80" y="226.40" font-size="13.89" textLength="7.70" lengthAdjust="spacingAndGlyphs" >d</text>
<text x="369.90" y="226.90" font-size="15.30" textLength="4.70" lengthAdjust="spacingAndGlyphs" >)</text>
<rect x="231.80" y="82.50" width="108.80" height="64.10" rx="2.8" ry="2.8" fill="#fff" fill-opacity="0.8" stroke="#ccc" stroke-opacity="0.8" stroke-width="1.11"/>
<line x1="237.60" y1="93.50" x2="266.20" y2="93.50" stroke="#1f77b4" stroke-width="2.08" stroke-linecap="square"/>
<text x="278.20" y="98.90" font-size="13.89" font-style="italic" textLength="8.40" lengthAdjust="spacingAndGlyphs" >β</text>
<text x="287.10" y="98.90" font-size="13.89" font-style="italic" >ϵ</text>
<text x="293.50" y="101.00" font-size="9.72" font-style="italic" textLength="7.60" lengthAdjust="spacingAndGlyphs" >F</text>
<text x="305.00" y="100.40" font-size="13.89" textLength="12.00" lengthAdjust="spacingAndGlyphs" >=</text>
<text x="321.00" y="98.90" font-size="13.89" >5</text>
<line x1="237.60" y1="113.40" x2="266.20" y2="113.40" stroke="#ff7f0e" stroke-width="2.08" stroke-linecap="square"/>
<text x="278.20" y="118.80" font-size="13.89" font-style="italic" textLength="8.40" lengthAdjust="spacingAndGlyphs" >β</text>
<text x="287.10" y="118.80" font-size="13.89" font-style="italic" >ϵ</text>
<text x="293.50" y="120.90" font-size="9.72" font-style="italic" textLength="7.60" lengthAdjust="spacingAndGlyphs" >F</text>
<text x="305.00" y="120.30" font-size="13.89" textLength="12.00" lengthAdjust="spacingAndGlyphs" >=</text>
<text x="321.00" y="118.80" font-size="13.89" >10</text>
<line x1="237.60" y1="133.30" x2="266.20" y2="133.30" stroke="#2ca02c" stroke-width="2.08" stroke-dasharray="7.7 3.33"/>
<text x="278.20" y="138.70" font-size="13.89" font-style="italic" textLength="8.40" lengthAdjust="spacingAndGlyphs" >β</text>
<text x="287.10" y="138.70" font-size="13.89" font-style="italic" >ϵ</text>
<text x="293.50" y="140.80" font-size="9.72" font-style="italic" textLength="7.60" lengthAdjust="spacingAndGlyphs" >F</text>
<text x="305.00" y="140.20" font-size="13.89" textLength="12.00" lengthAdjust="spacingAndGlyphs" >=</text>
<text x="321.00" y="138.70" font-size="13.89" >20</text>
<rect x="225.30" y="233.40" width="115.30" height="44.40" rx="2.8" ry="2.8" fill="#fff" fill-opacity="0.8" stroke="#ccc" stroke-opacity="0.8" stroke-width="1.11"/>
<line x1="231.20" y1="244.30" x2="259.60" y2="244.30" stroke="#1f77b4" stroke-width="2.08" stroke-linecap="square"/>
<line x1="231.20" y1="264.40" x2="259.60" y2="264.40" stroke="#ff7f0e" stroke-width="2.08" stroke-linecap="square"/>
<text x="271.00" y="249.60" font-size="13.89" textLength="63.20" lengthAdjust="spacingAndGlyphs" >Numerical</text>
<text x="271.00" y="268.80" font-size="13.89" textLength="63.20" lengthAdjust="spacingAndGlyphs" >Analytical</text>
<rect x="587.70" y="17.20" width="89.80" height="65.60" rx="2.8" ry="2.8" fill="#fff" fill-opacity="0.8" stroke="#ccc" stroke-opacity="0.8" stroke-width="1.11"/>
<line x1="593.20" y1="28.40" x2="622.00" y2="28.40" stroke="#1f77b4" stroke-width="2.08" stroke-linecap="square"/>
<line x1="593.20" y1="49.60" x2="622.00" y2="49.60" stroke="#ff7f0e" stroke-width="2.08" stroke-linecap="square"/>
<line x1="593.20" y1="69.80" x2="622.00" y2="69.80" stroke="#2ca02c" stroke-width="2.08" stroke-linecap="square"/>
<text x="633.70" y="34.50" font-size="13.89" textLength="9.60" lengthAdjust="spacingAndGlyphs" >−</text>
<text x="644.70" y="33.00" font-size="13.89" font-style="italic" textLength="5.80" lengthAdjust="spacingAndGlyphs" >r</text>
<text x="650.80" y="35.60" font-size="9.72" font-style="italic" textLength="6.40" lengthAdjust="spacingAndGlyphs" >ϕ</text>
<text x="633.40" y="54.90" font-size="13.89" font-style="italic" textLength="6.40" lengthAdjust="spacingAndGlyphs" >v</text>
<text x="640.50" y="49.90" font-size="9.72" textLength="5.40" lengthAdjust="spacingAndGlyphs" >2</text>
<text x="650.90" y="56.30" font-size="13.89" textLength="9.60" lengthAdjust="spacingAndGlyphs" >×</text>
<text x="663.90" y="54.90" font-size="13.89" textLength="6.70" lengthAdjust="spacingAndGlyphs" >5</text>
<text x="633.70" y="74.50" font-size="13.89" font-style="italic" textLength="6.80" lengthAdjust="spacingAndGlyphs" >ρ</text>
<text x="644.60" y="75.90" font-size="13.89" textLength="9.60" lengthAdjust="spacingAndGlyphs" >×</text>
<text x="658.30" y="74.50" font-size="13.89" textLength="6.70" lengthAdjust="spacingAndGlyphs" >5</text>
<rect x="580.70" y="233.70" width="96.80" height="65.00" rx="2.8" ry="2.8" fill="#fff" fill-opacity="0.8" stroke="#ccc" stroke-opacity="0.8" stroke-width="1.11"/>
<line x1="586.20" y1="244.60" x2="615.20" y2="244.60" stroke="#1f77b4" stroke-width="2.08" stroke-linecap="square"/>
<line x1="586.20" y1="265.60" x2="615.20" y2="265.60" stroke="#ff7f0e" stroke-width="2.08" stroke-linecap="square"/>
<line x1="586.20" y1="285.70" x2="615.20" y2="285.70" stroke="#2ca02c" stroke-width="2.08" stroke-linecap="square"/>
<text x="626.70" y="250.80" font-size="13.89" textLength="9.60" lengthAdjust="spacingAndGlyphs" >−</text>
<text x="637.70" y="249.30" font-size="13.89" font-style="italic" textLength="5.80" lengthAdjust="spacingAndGlyphs" >r</text>
<text x="643.80" y="251.90" font-size="9.72" font-style="italic" textLength="6.40" lengthAdjust="spacingAndGlyphs" >ϕ</text>
<text x="626.40" y="270.90" font-size="13.89" font-style="italic" textLength="6.40" lengthAdjust="spacingAndGlyphs" >v</text>
<text x="633.50" y="265.90" font-size="9.72" textLength="5.40" lengthAdjust="spacingAndGlyphs" >2</text>
<text x="643.90" y="272.30" font-size="13.89" textLength="9.60" lengthAdjust="spacingAndGlyphs" >×</text>
<text x="656.90" y="270.90" font-size="13.89" textLength="13.70" lengthAdjust="spacingAndGlyphs" >30</text>
<text x="626.70" y="290.70" font-size="13.89" font-style="italic" textLength="6.80" lengthAdjust="spacingAndGlyphs" >ρ</text>
<text x="637.60" y="292.10" font-size="13.89" textLength="9.60" lengthAdjust="spacingAndGlyphs" >×</text>
<text x="651.30" y="290.70" font-size="13.89" textLength="13.70" lengthAdjust="spacingAndGlyphs" >30</text>
<text x="517.70" y="192.90" font-size="13.89" font-style="italic" >r</text>
<text x="524.00" y="195.00" font-size="9.72" font-style="italic" >d</text>
<text x="0.00" y="0.00" font-size="13.89"  transform="translate(530.80,196.30) scale(1.550,1.370)">/</text>
<text x="537.30" y="192.90" font-size="13.89" font-style="italic" >r</text>
<text x="543.60" y="195.00" font-size="9.72" font-style="italic" textLength="9.40" lengthAdjust="spacingAndGlyphs" >N</text>
<text x="517.10" y="409.10" font-size="13.89" font-style="italic" >v</text>
<text x="523.90" y="404.10" font-size="9.72" >2</text>
<text x="523.90" y="412.50" font-size="9.72" font-style="italic" >d</text>
<text x="0.00" y="0.00" font-size="13.89"  transform="translate(530.90,412.50) scale(1.550,1.370)">/</text>
<text x="537.30" y="409.10" font-size="13.89" font-style="italic" >v</text>
<text x="544.10" y="404.10" font-size="9.72" >2</text>
<text x="544.10" y="412.50" font-size="9.72" font-style="italic" textLength="9.40" lengthAdjust="spacingAndGlyphs" >N</text>
<text transform="translate(173.3,207.4) scale(1.667,2.31)" font-size="13.89">√</text>
<line x1="185.8" y1="182.2" x2="209.0" y2="182.2" stroke="#000" stroke-width="0.8"/>
<line x1="187.8" y1="194.2" x2="206.9" y2="194.2" stroke="#000" stroke-width="0.7"/>
<text x="189.70" y="192.10" font-size="10.20" >2</text>
<text x="195.00" y="192.10" font-size="10.20" font-style="italic" textLength="10.20" lengthAdjust="spacingAndGlyphs" >m</text>
<text x="188.00" y="203.20" font-size="10.20" font-style="italic" textLength="7.00" lengthAdjust="spacingAndGlyphs" >β</text>
<text x="195.40" y="203.20" font-size="10.20" font-style="italic" textLength="5.80" lengthAdjust="spacingAndGlyphs" >ħ</text>
<text x="202.20" y="199.80" font-size="7.60" >2</text>
<text x="0.00" y="0.00" font-size="13.89" textLength="2.00" lengthAdjust="spacingAndGlyphs"  transform="translate(209.20,198.90) scale(1.000,1.100)">|</text>
<text x="212.60" y="198.20" font-size="13.89" font-style="italic" textLength="7.80" lengthAdjust="spacingAndGlyphs" >x</text>
<text x="0.00" y="0.00" font-size="13.89" textLength="2.00" lengthAdjust="spacingAndGlyphs"  transform="translate(221.30,198.90) scale(1.000,1.100)">|</text>
<text transform="translate(178.3,407.8) scale(1.096,0.875)" font-size="13.89">√</text>
<line x1="186.6" y1="398.5" x2="201.2" y2="398.5" stroke="#000" stroke-width="0.8"/>
<line x1="177.3" y1="409.1" x2="201.2" y2="409.1" stroke="#000" stroke-width="0.8"/>
<text x="187.00" y="404.60" font-size="9.72" font-style="italic" >r</text>
<text x="192.80" y="406.60" font-size="8.20" font-style="italic" textLength="7.00" lengthAdjust="spacingAndGlyphs" >N</text>
<text x="182.20" y="416.80" font-size="9.72" font-style="italic" textLength="5.20" lengthAdjust="spacingAndGlyphs" >v</text>
<text x="188.00" y="418.60" font-size="8.20" font-style="italic" textLength="7.20" lengthAdjust="spacingAndGlyphs" >N</text>
<text x="0.00" y="0.00" font-size="13.89" textLength="2.00" lengthAdjust="spacingAndGlyphs"  transform="translate(204.00,412.60) scale(1.000,1.100)">|</text>
<text x="207.30" y="412.60" font-size="13.89" font-style="italic" textLength="7.60" lengthAdjust="spacingAndGlyphs" >x</text>
<text x="0.00" y="0.00" font-size="13.89" textLength="2.00" lengthAdjust="spacingAndGlyphs"  transform="translate(216.00,412.60) scale(1.000,1.100)">|</text>
<g transform="translate(11.7,127.4) rotate(-90)">
<text x="-0.40" y="0.00" font-size="13.89" font-style="italic" textLength="11.40" lengthAdjust="spacingAndGlyphs" >ψ</text>
<text x="10.30" y="2.10" font-size="9.72" font-style="italic" textLength="7.40" lengthAdjust="spacingAndGlyphs" >F</text>
<text x="19.20" y="0.50" font-size="15.30" textLength="4.70" lengthAdjust="spacingAndGlyphs" >(</text>
<text x="24.40" y="0.00" font-size="13.89" font-style="italic" textLength="8.30" lengthAdjust="spacingAndGlyphs" >x</text>
<text x="32.90" y="0.50" font-size="15.30" textLength="4.70" lengthAdjust="spacingAndGlyphs" >)</text>
<text x="38.80" y="0.50" font-size="15.30" textLength="4.70" lengthAdjust="spacingAndGlyphs" >(</text>
<text x="44.40" y="1.60" font-size="16.00" textLength="9.80" lengthAdjust="spacingAndGlyphs" >×</text>
<text x="55.20" y="0.00" font-size="13.89" >10</text>
<text x="69.50" y="-4.40" font-size="9.72" textLength="8.00" lengthAdjust="spacingAndGlyphs" >−</text>
<text x="78.20" y="-5.00" font-size="9.72" >3</text>
<text x="84.00" y="0.50" font-size="15.30" textLength="4.70" lengthAdjust="spacingAndGlyphs" >)</text>
</g>
<g transform="translate(23.0,327.9) rotate(-90)">
<text x="-0.40" y="0.00" font-size="13.89" font-style="italic" textLength="11.40" lengthAdjust="spacingAndGlyphs" >ψ</text>
<text x="10.30" y="2.10" font-size="9.72" font-style="italic" textLength="7.60" lengthAdjust="spacingAndGlyphs" >B</text>
<text x="19.40" y="0.50" font-size="15.30" textLength="4.70" lengthAdjust="spacingAndGlyphs" >(</text>
<text x="24.60" y="0.00" font-size="13.89" font-style="italic" textLength="8.30" lengthAdjust="spacingAndGlyphs" >x</text>
<text x="33.10" y="0.50" font-size="15.30" textLength="4.70" lengthAdjust="spacingAndGlyphs" >)</text>
<text x="0.00" y="0.00" font-size="13.89"  transform="translate(38.60,3.40) scale(1.550,1.370)">/</text>
<text x="45.40" y="0.00" font-size="13.89" font-style="italic" textLength="8.00" lengthAdjust="spacingAndGlyphs" >ϕ</text>
<text x="53.60" y="2.10" font-size="9.72" >0</text>
</g>
</svg>
</body></html>
